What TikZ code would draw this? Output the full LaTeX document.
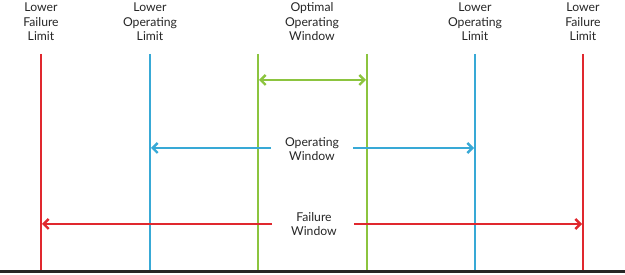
\documentclass[tikz,border=0pt]{standalone}
\usepackage{fontspec}
\setmainfont{Lato}
\usetikzlibrary{arrows.meta}
\definecolor{fred}{HTML}{E0282E}
\definecolor{fblue}{HTML}{38A9D6}
\definecolor{fgreen}{HTML}{8CC43F}
\begin{document}
\begin{tikzpicture}[x=1pt,y=-1pt,
  lbl/.style={align=center,font=\fontsize{12.2}{14.5}\selectfont,text=black!85,inner sep=0pt},
  vline/.style={line width=2pt},
  harrow/.style={line width=2.4pt,{Straight Barb[length=5pt,width=10pt]}-{Straight Barb[length=5pt,width=10pt]}},
  larrow/.style={line width=2.4pt,-{Straight Barb[length=5pt,width=10pt]}}]
\useasboundingbox (0,0) rectangle (625,275);
% vertical lines
\coordinate (r1t) at (41,54);  \coordinate (r1b) at (41,272);
\coordinate (b1t) at (150,54); \coordinate (b1b) at (150,272);
\coordinate (g1t) at (258,54); \coordinate (g1b) at (258,272);
\coordinate (g2t) at (367,54); \coordinate (g2b) at (367,272);
\coordinate (b2t) at (475,54); \coordinate (b2b) at (475,272);
\coordinate (r2t) at (583,54); \coordinate (r2b) at (583,272);
\draw[vline,fred] (r1t) -- (r1b);
\draw[vline,fred] (r2t) -- (r2b);
\draw[vline,fblue] (b1t) -- (b1b);
\draw[vline,fblue] (b2t) -- (b2b);
\draw[vline,fgreen] (g1t) -- (g1b);
\draw[vline,fgreen] (g2t) -- (g2b);
% baseline
\coordinate (bl) at (0,272); \coordinate (br) at (625,272);
\draw[line width=3pt,black!85] (bl) -- (br);
% top labels
\node[lbl] (l1) at (41,22) {Lower\\Failure\\Limit};
\node[lbl] (l2) at (150,22) {Lower\\Operating\\Limit};
\node[lbl] (l3) at (312,22) {Optimal\\Operating\\Window};
\node[lbl] (l4) at (475,22) {Lower\\Operating\\Limit};
\node[lbl] (l5) at (583,22) {Lower\\Failure\\Limit};
% green arrow
\coordinate (ga) at (259,80); \coordinate (gb) at (366,80);
\draw[harrow,fgreen] (ga) -- (gb);
% blue arrow
\node[lbl] (ow) at (312,149) {Operating\\Window};
\coordinate (ba) at (151,148); \coordinate (bb) at (474,148);
\coordinate (bam) at (271,148); \coordinate (bbm) at (353,148);
\draw[larrow,fblue] (bam) -- (ba);
\draw[larrow,fblue] (bbm) -- (bb);
% red arrow
\node[lbl] (fw) at (314,224) {Failure\\Window};
\coordinate (ra) at (42,224); \coordinate (rb) at (582,224);
\coordinate (ram) at (272,224); \coordinate (rbm) at (354,224);
\draw[larrow,fred] (ram) -- (ra);
\draw[larrow,fred] (rbm) -- (rb);
\end{tikzpicture}
\end{document}
